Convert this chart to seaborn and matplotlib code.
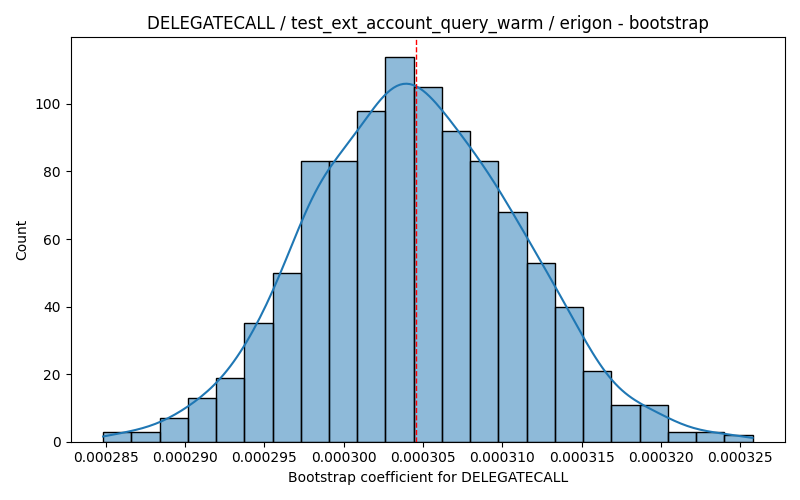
import numpy as np
import pandas as pd
import matplotlib
matplotlib.use('Agg')
import matplotlib.pyplot as plt
from matplotlib.ticker import MultipleLocator
import seaborn as sns

# data (bootstrap distribution, 1000 draws)
opcode     = "DELEGATECALL"
test_name  = "test_ext_account_query_warm"
client     = "erigon"
bin_lo     = 0.00028484
bin_hi     = 0.00032577
bin_counts = [3, 3, 7, 13, 19, 35, 50, 83, 83, 98, 114, 105,
              92, 83, 68, 53, 40, 21, 11, 11, 3, 3, 2]
point_est  = 0.00030456

n_bins  = len(bin_counts)
edges   = np.linspace(bin_lo, bin_hi, n_bins + 1)
centers = (edges[:-1] + edges[1:]) / 2
# one row per bootstrap draw, placed at its bin centre
df = pd.DataFrame({'coef': np.repeat(centers, bin_counts)})

fig, ax = plt.subplots(figsize=(8, 5), dpi=100)
sns.histplot(data=df, x='coef', bins=n_bins,
             binrange=(bin_lo, bin_hi), kde=True,
             kde_kws=dict(cut=1, clip=(bin_lo, bin_hi)), ax=ax)
ax.axvline(point_est, color='red', linestyle='--', linewidth=1)

ax.xaxis.set_major_locator(MultipleLocator(0.000005))
ax.set_title(f"{opcode} / {test_name} / {client} - bootstrap")
ax.set_xlabel(f"Bootstrap coefficient for {opcode}")
ax.set_ylabel("Count")
plt.tight_layout()
plt.savefig('out.png')
